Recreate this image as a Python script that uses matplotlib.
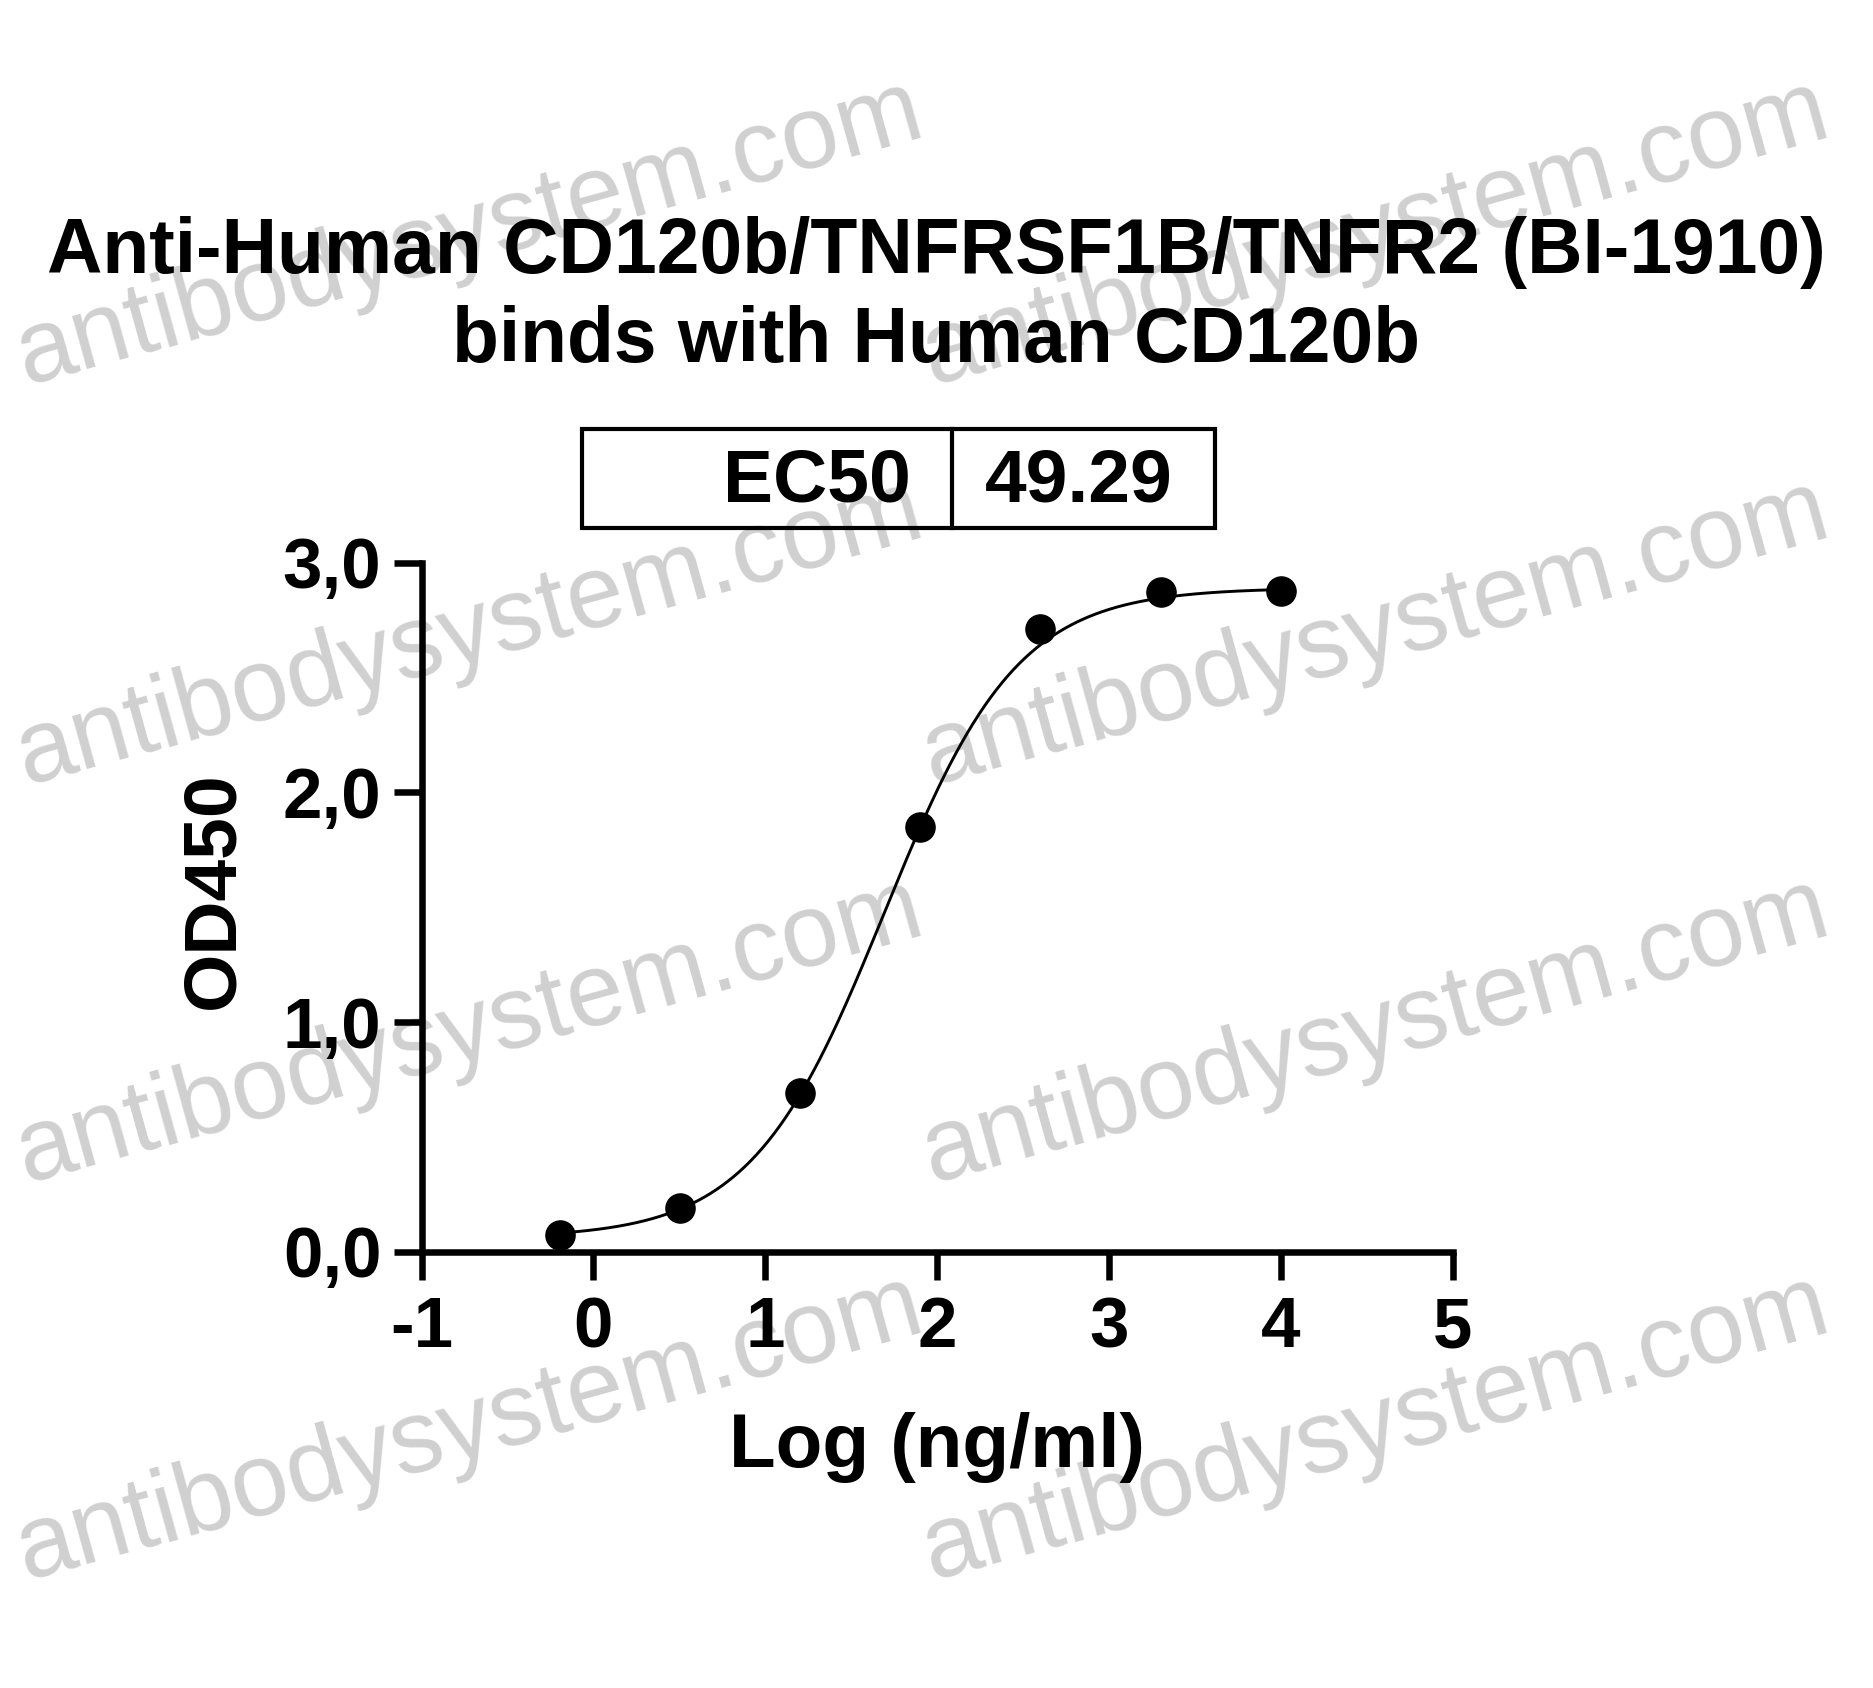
import numpy as np
import matplotlib
matplotlib.use("Agg")
import matplotlib.pyplot as plt
from matplotlib.patches import Rectangle
from matplotlib.lines import Line2D

# ---------------- data ----------------
log_conc = [-0.194, 0.505, 1.204, 1.903, 2.602, 3.301, 4.0]
od450 = [0.075, 0.19, 0.69, 1.85, 2.71, 2.87, 2.875]

# 4-parameter logistic fit shown as the curve
fit_bottom = 0.06
fit_top = 2.89
fit_ec50 = 49.29
fit_hill = 1.12

x_ticks = [-1, 0, 1, 2, 3, 4, 5]
x_ticklabels = ["-1", "0", "1", "2", "3", "4", "5"]
y_ticks = [0, 1, 2, 3]
y_ticklabels = ["0,0", "1,0", "2,0", "3,0"]

title_lines = ["Anti-Human CD120b/TNFRSF1B/TNFR2 (BI-1910)", "binds with Human CD120b"]
ec50_label = "EC50"
ec50_value = "49.29"
x_label = "Log (ng/ml)"
y_label = "OD450"
watermark = "antibodysystem.com"

# ---------------- figure ----------------
plt.rcParams['font.family'] = ['Liberation Sans', 'DejaVu Sans']
plt.rcParams['font.weight'] = 'bold'

W, H = 1873, 1688
fig = plt.figure(figsize=(W / 100, H / 100), dpi=100)
fig.patch.set_facecolor("white")


def fx(px):
    return px / W


def fy(py):
    return 1 - py / H


# watermarks (behind everything)
wm_x = [26, 932]
wm_y = [385, 785, 1183, 1580]
for yy in wm_y:
    for xx in wm_x:
        fig.text(fx(xx), fy(yy), watermark, fontsize=74, fontweight='normal',
                 color='#d0d0d0', rotation=15.5, rotation_mode='anchor',
                 ha='left', va='baseline', zorder=-5)

# axes
x0, x1 = 421.6, 1452.5
y0, y1 = 1251.8, 562.6
ax = fig.add_axes([fx(x0), fy(y0), (x1 - x0) / W, (y0 - y1) / H])
ax.patch.set_alpha(0)
ax.set_xlim(-1, 5)
ax.set_ylim(0, 3)
for s in ['top', 'right']:
    ax.spines[s].set_visible(False)
for s in ['left', 'bottom']:
    ax.spines[s].set_linewidth(4.7)
    ax.spines[s].set_capstyle('projecting')

ax.set_xticks(x_ticks)
ax.set_xticklabels(x_ticklabels)
ax.set_yticks(y_ticks)
ax.set_yticklabels(y_ticklabels)
ax.tick_params(direction='out', length=20, width=4.7, labelsize=51, pad=9)
ax.tick_params(axis='x', pad=12)

xc = np.linspace(log_conc[0], log_conc[-1], 500)
yc = fit_bottom + (fit_top - fit_bottom) / (1 + 10 ** ((np.log10(fit_ec50) - xc) * fit_hill))
ax.plot(xc, yc, color='black', lw=2.1, zorder=3, clip_on=False)
ax.plot(log_conc, od450, 'o', ms=21, color='black', zorder=4, clip_on=False)

# axis labels
fig.text(fx(937), fy(1467), x_label, fontsize=55, fontweight='bold',
         ha='center', va='baseline')
fig.text(fx(214), fy(890), y_label, fontsize=54, fontweight='bold',
         ha='center', va='center', rotation=90)

# title
fig.text(fx(936), fy(273), title_lines[0], fontsize=55.3, fontweight='bold',
         ha='center', va='baseline')
fig.text(fx(936), fy(362), title_lines[1], fontsize=55.3, fontweight='bold',
         ha='center', va='baseline')

# EC50 box
bx0, bx1, by0, by1, bdiv = 582, 1215, 429, 528, 952
fig.add_artist(Rectangle((fx(bx0), fy(by1)), (bx1 - bx0) / W, (by1 - by0) / H,
                         transform=fig.transFigure, fill=False, lw=3.0,
                         edgecolor='black'))
fig.add_artist(Line2D([fx(bdiv), fx(bdiv)], [fy(by0), fy(by1)],
                      transform=fig.transFigure, lw=3.0, color='black'))
fig.text(fx(911), fy(502), ec50_label, fontsize=54, fontweight='bold',
         ha='right', va='baseline')
fig.text(fx(1079), fy(502), ec50_value, fontsize=54, fontweight='bold',
         ha='center', va='baseline')

fig.savefig("out.png", dpi=100, facecolor='white')
